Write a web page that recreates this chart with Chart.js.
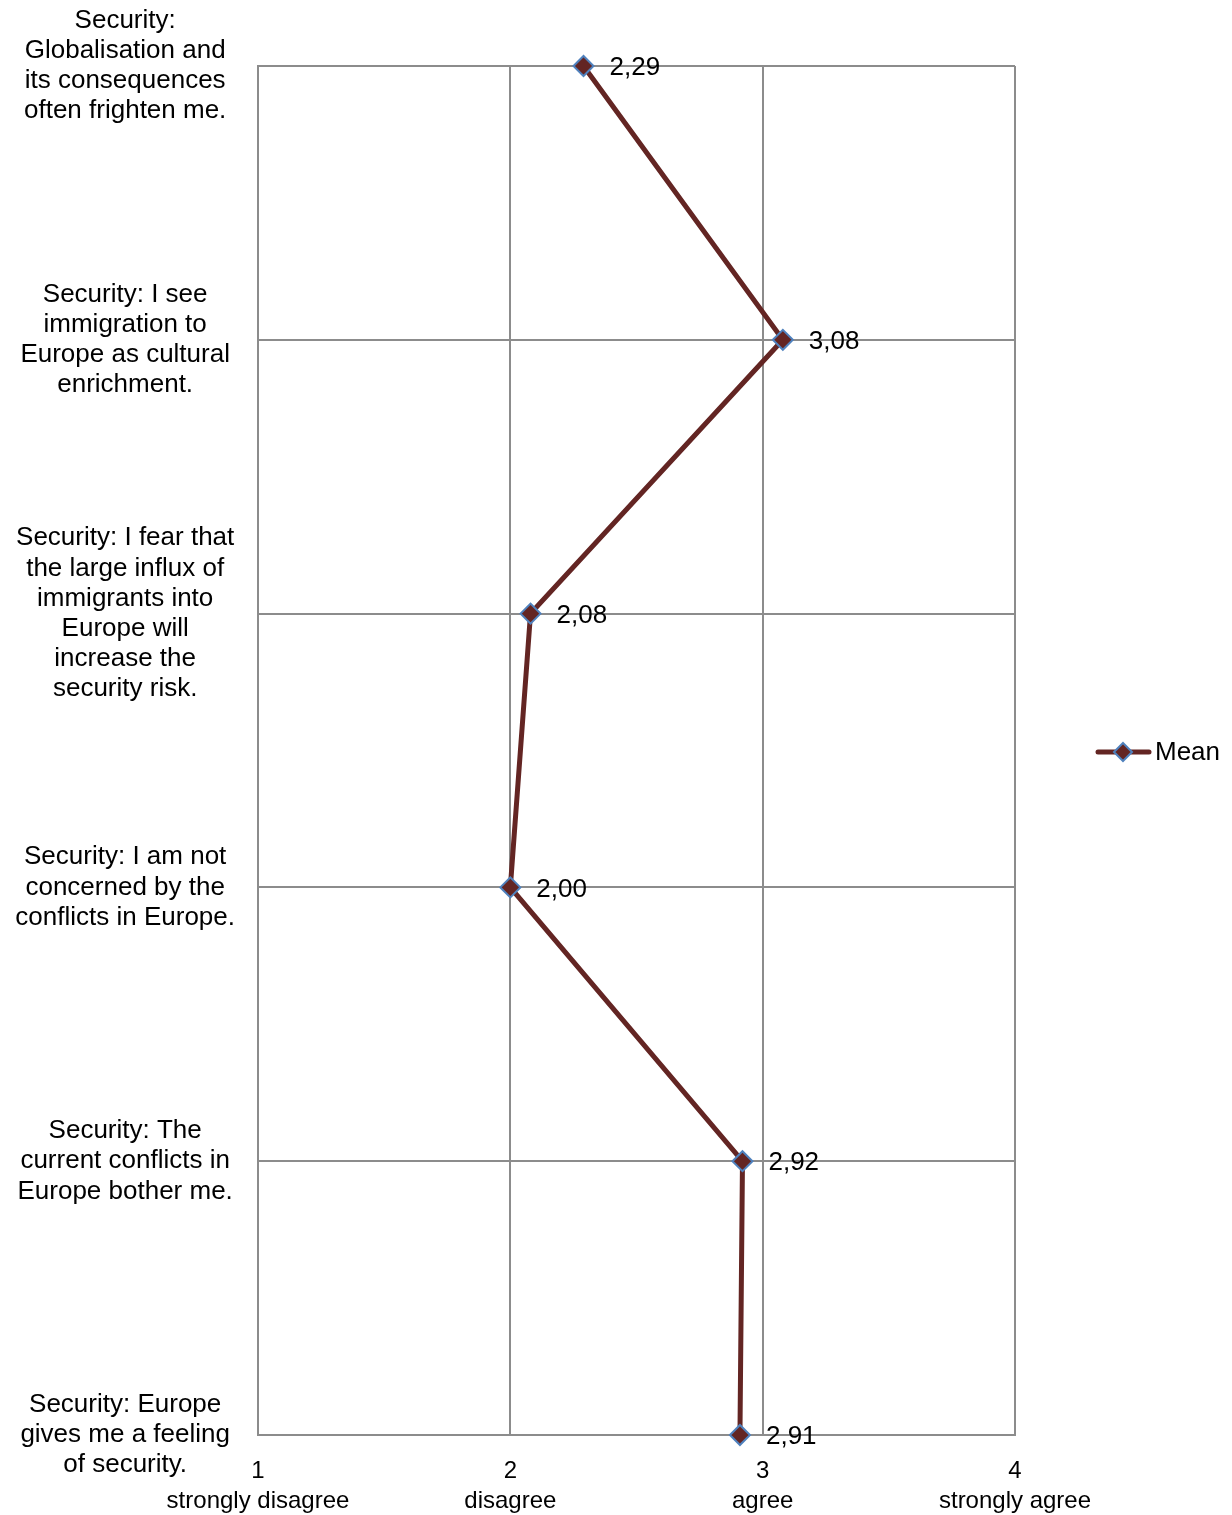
<!DOCTYPE html>
<html>
<head>
<meta charset="utf-8">
<script src="https://cdn.jsdelivr.net/npm/chart.js@4/dist/chart.umd.min.js"></script>
<style>
  html, body { margin: 0; padding: 0; background: #fff; }
  #wrap { width: 1232px; height: 1515px; position: relative; }
</style>
</head>
<body>
<div id="wrap"><canvas id="chart"></canvas></div>
<script>
// statements (top to bottom), one array of lines each
const statements = [
    ['Security:', 'Globalisation and', 'its consequences', 'often frighten me.'],
    ['Security: I see', 'immigration to', 'Europe as cultural', 'enrichment.'],
    ['Security: I fear that', 'the large influx of', 'immigrants into', 'Europe will', 'increase the', 'security risk.'],
    ['Security: I am not', 'concerned by the', 'conflicts in Europe.'],
    ['Security: The', 'current conflicts in', 'Europe bother me.'],
    ['Security: Europe', 'gives me a feeling', 'of security.']
];
const meanValues = [2.29, 3.08, 2.08, 2.00, 2.92, 2.91];
const scaleTicks = [1, 2, 3, 4];
const scaleNames = ['strongly disagree', 'disagree', 'agree', 'strongly agree'];

const LINE = '#632523';
const EDGE = '#4f81bd';
const GRID = '#8c8c8c';
const FONT = "'Liberation Sans', Arial, sans-serif";

// value labels next to each point ("2,29")
const valueLabels = {
    id: 'valueLabels',
    afterDatasetsDraw(chart) {
        const ctx = chart.ctx;
        const meta = chart.getDatasetMeta(0);
        ctx.save();
        ctx.font = '26px ' + FONT;
        ctx.fillStyle = '#000';
        ctx.textAlign = 'left';
        ctx.textBaseline = 'middle';
        meta.data.forEach((pt, i) => {
            ctx.fillText(meanValues[i].toFixed(2).replace('.', ','), pt.x + 26, pt.y + 2);
        });
        ctx.restore();
    }
};

// legend at right, line with diamond marker
const sideLegend = {
    id: 'sideLegend',
    afterDraw(chart) {
        const ctx = chart.ctx;
        const y = 752;
        ctx.save();
        ctx.strokeStyle = LINE;
        ctx.lineWidth = 5;
        ctx.lineCap = 'round';
        ctx.beginPath();
        ctx.moveTo(1098, y);
        ctx.lineTo(1149, y);
        ctx.stroke();
        const cx = 1123, r = 9;
        ctx.beginPath();
        ctx.moveTo(cx, y - r); ctx.lineTo(cx + r, y); ctx.lineTo(cx, y + r); ctx.lineTo(cx - r, y); ctx.closePath();
        ctx.fillStyle = LINE;
        ctx.fill();
        ctx.lineWidth = 2;
        ctx.strokeStyle = EDGE;
        ctx.stroke();
        ctx.font = '26px ' + FONT;
        ctx.fillStyle = '#000';
        ctx.textBaseline = 'middle';
        ctx.fillText('Mean', 1155, y + 1);
        ctx.restore();
    }
};

new Chart(document.getElementById('chart'), {
    type: 'line',
    data: {
        labels: statements,
        datasets: [{
            label: 'Mean',
            data: meanValues,
            borderColor: LINE,
            borderWidth: 5,
            pointStyle: 'rectRot',
            pointRadius: 10,
            pointHoverRadius: 10,
            pointBackgroundColor: LINE,
            pointBorderColor: EDGE,
            pointBorderWidth: 2,
            tension: 0,
            fill: false
        }]
    },
    options: {
        indexAxis: 'y',
        responsive: true,
        maintainAspectRatio: false,
        animation: false,
        layout: { padding: { top: 66, right: 217, left: 0, bottom: 0 } },
        plugins: {
            legend: { display: false },
            tooltip: { enabled: false }
        },
        scales: {
            y: {
                type: 'category',
                offset: false,
                grid: { color: GRID, lineWidth: 2, drawTicks: false },
                border: { color: GRID, width: 2 },
                afterFit: s => { s.width = 258; s.paddingTop = 0; s.paddingBottom = 0; },
                ticks: {
                    crossAlign: 'center',
                    padding: 23,
                    color: '#000',
                    font: { family: FONT, size: 26, lineHeight: 1.16 },
                    autoSkip: false
                }
            },
            x: {
                type: 'linear',
                min: 1,
                max: 4,
                grid: { color: GRID, lineWidth: 2, drawTicks: false },
                border: { color: GRID, width: 2 },
                afterFit: s => { s.height = 80; s.paddingLeft = 0; s.paddingRight = 0; },
                ticks: {
                    stepSize: 1,
                    padding: 21,
                    color: '#000',
                    font: { family: FONT, size: 24, lineHeight: 1.25 },
                    callback: v => scaleTicks.includes(v) ? [String(v), scaleNames[scaleTicks.indexOf(v)]] : ''
                }
            }
        }
    },
    plugins: [valueLabels, sideLegend]
});
</script>
</body>
</html>
